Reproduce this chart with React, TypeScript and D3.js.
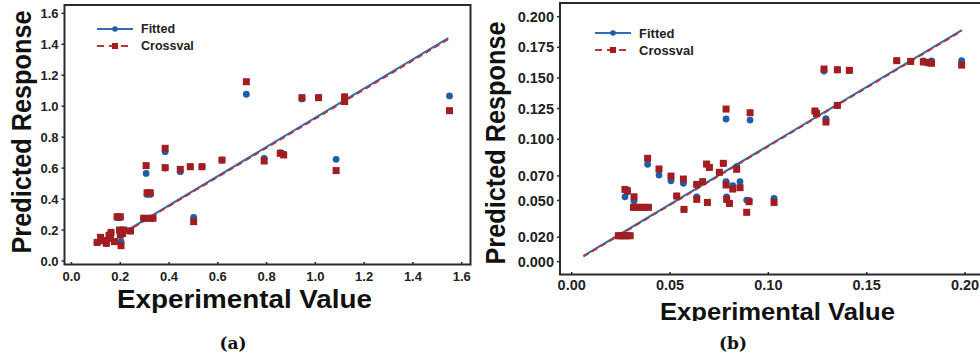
import React from 'react'
import * as d3 from 'd3'

// panel (a)
const expA = [0.105, 0.119, 0.126, 0.135, 0.143, 0.154, 0.16, 0.162, 0.176, 0.187, 0.2, 0.197, 0.2, 0.203, 0.214, 0.21, 0.242, 0.296, 0.306, 0.31, 0.323, 0.32, 0.334, 0.384, 0.384, 0.446, 0.487, 0.501, 0.535, 0.617, 0.717, 0.79, 0.856, 0.87, 0.945, 1.013, 1.085, 1.12, 1.12, 1.55]
const fitA = [0.12, 0.153, 0.131, 0.131, 0.114, 0.166, 0.146, 0.185, 0.125, 0.28, 0.28, 0.2, 0.168, 0.125, 0.2, 0.178, 0.194, 0.276, 0.566, 0.43, 0.43, 0.276, 0.276, 0.706, 0.6, 0.577, 0.609, 0.282, 0.609, 0.652, 1.077, 0.663, 0.7, 0.69, 1.047, 1.055, 0.657, 1.06, 1.04, 1.066]
const cvA = [0.12, 0.153, 0.131, 0.131, 0.114, 0.166, 0.146, 0.185, 0.125, 0.286, 0.286, 0.2, 0.168, 0.099, 0.2, 0.178, 0.194, 0.276, 0.616, 0.441, 0.441, 0.276, 0.276, 0.728, 0.603, 0.592, 0.609, 0.254, 0.609, 0.652, 1.158, 0.646, 0.695, 0.685, 1.055, 1.055, 0.584, 1.06, 1.03, 0.971]
const fitLineA = { x: [0.22, 1.545], y: [0.19, 1.44] }
const cvLineA = { x: [0.22, 1.545], y: [0.185, 1.432] }
const xTicksA = [0, 0.2, 0.4, 0.6, 0.8, 1.0, 1.2, 1.4, 1.6]
const yTicksA = [0, 0.2, 0.4, 0.6, 0.8, 1.0, 1.2, 1.4, 1.6]

// panel (b)
const expB = [0.0237, 0.025, 0.0265, 0.028, 0.0297, 0.0271, 0.0283, 0.0317, 0.0314, 0.033, 0.035, 0.037, 0.039, 0.0386, 0.0444, 0.0505, 0.0534, 0.0568, 0.0571, 0.0636, 0.0636, 0.0666, 0.069, 0.0686, 0.07, 0.0751, 0.0771, 0.0785, 0.0785, 0.0788, 0.0802, 0.0819, 0.0839, 0.0856, 0.089, 0.0902, 0.0907, 0.1029, 0.1237, 0.1245, 0.1283, 0.1293, 0.1351, 0.1351, 0.1412, 0.1653, 0.1724, 0.1788, 0.1814, 0.183, 0.1983]
const fitB = [0.0212, 0.0212, 0.0212, 0.0212, 0.0212, 0.053, 0.057, 0.0495, 0.0444, 0.0444, 0.0444, 0.0444, 0.0444, 0.0795, 0.0707, 0.0661, 0.0536, 0.064, 0.0427, 0.0631, 0.053, 0.0653, 0.0484, 0.0797, 0.077, 0.073, 0.0803, 0.1165, 0.0653, 0.053, 0.0476, 0.062, 0.0776, 0.0653, 0.0503, 0.05, 0.1156, 0.0517, 0.123, 0.121, 0.1556, 0.1167, 0.1567, 0.1276, 0.1562, 0.1641, 0.1635, 0.164, 0.163, 0.164, 0.1641]
const cvB = [0.0212, 0.0212, 0.0212, 0.0212, 0.0212, 0.059, 0.058, 0.053, 0.0444, 0.0444, 0.0444, 0.0444, 0.0444, 0.0844, 0.0757, 0.0699, 0.0536, 0.0675, 0.0427, 0.0631, 0.0509, 0.0653, 0.0484, 0.0797, 0.077, 0.073, 0.0803, 0.1246, 0.0626, 0.0509, 0.0476, 0.0593, 0.0754, 0.0604, 0.0403, 0.049, 0.1216, 0.0484, 0.123, 0.121, 0.1573, 0.114, 0.1567, 0.1276, 0.1562, 0.1641, 0.1635, 0.163, 0.1624, 0.162, 0.1605]
const fitLineB = { x: [0.006, 0.1984], y: [0.0047, 0.189] }
const cvLineB = { x: [0.006, 0.1984], y: [0.0042, 0.1884] }
const xTicksB = [0, 0.05, 0.1, 0.15, 0.2]
const yTicksB = [0, 0.02, 0.05, 0.07, 0.1, 0.125, 0.15, 0.175, 0.2]

const BLUE = '#1d5daa'
const RED = '#a11d1f'
const LINE_BLUE = '#2f6db3'
const LINE_RED = '#b3363a'
const FONT = '"Liberation Sans", Arial, sans-serif'

interface PanelProps {
  exp: number[]
  fit: number[]
  cv: number[]
  fitLine: { x: number[]; y: number[] }
  cvLine: { x: number[]; y: number[] }
  xTicks: number[]
  yTicks: number[]
  xFmt: (v: number) => string
  yFmt: (v: number) => string
  xRange: [number, number]
  yRange: [number, number]
  xDomain: [number, number]
  yDomain: [number, number]
  frame: { x0: number; x1: number; y0: number; y1: number }
  tickSize: number
  xLabelY: number
  legend: { x: number; y: number; size: number }
  yTitle: { x: number; cy: number; len: number }
  xTitle: { cx: number; y: number; len: number; size: number; clip: number }
  caption: { cx: number; y: number; text: string }
  id: string
}

const Panel: React.FC<PanelProps> = p => {
  const x = d3.scaleLinear().domain(p.xDomain).range(p.xRange)
  const y = d3.scaleLinear().domain(p.yDomain).range(p.yRange)
  const line = d3
    .line<number>()
    .x((_, i) => x(p.fitLine.x[i]))
    .y(d => y(d))
  const cvPath = d3
    .line<number>()
    .x((_, i) => x(p.cvLine.x[i]))
    .y(d => y(d))
  const f = p.frame
  const lg = p.legend
  const sq = 7

  return (
    <g>
      <defs>
        <clipPath id={`clip-${p.id}`}>
          <rect x={f.x0 - 80} y={0} width={600} height={p.xTitle.clip} />
        </clipPath>
      </defs>
      <rect x={f.x0} y={f.y0} width={f.x1 - f.x0} height={f.y1 - f.y0} fill="#fff" stroke="#2b2b2b" strokeWidth={2} />

      {/* y ticks */}
      {p.yTicks.map(t => (
        <g key={`y${t}`}>
          <line x1={f.x0 - 3} x2={f.x0} y1={y(t)} y2={y(t)} stroke="#2b2b2b" strokeWidth={1.5} />
          <text x={f.x0 - 6} y={y(t)} dy="0.35em" textAnchor="end" fontFamily={FONT} fontWeight="bold" fontSize={p.tickSize} fill="#222">
            {p.yFmt(t)}
          </text>
        </g>
      ))}
      {/* x ticks */}
      {p.xTicks.map(t => (
        <g key={`x${t}`}>
          <line x1={x(t)} x2={x(t)} y1={f.y1 - 2.5} y2={f.y1} stroke="#2b2b2b" strokeWidth={1.5} />
          <text x={x(t)} y={p.xLabelY} textAnchor="middle" fontFamily={FONT} fontWeight="bold" fontSize={p.tickSize} fill="#222">
            {p.xFmt(t)}
          </text>
        </g>
      ))}

      {/* regression lines */}
      <path d={line(p.fitLine.y) || ''} fill="none" stroke={LINE_BLUE} strokeWidth={2} />
      <path d={cvPath(p.cvLine.y) || ''} fill="none" stroke={LINE_RED} strokeWidth={1.8} strokeDasharray="6,4" />

      {/* points */}
      {p.exp.map((e, i) => (
        <circle key={`f${i}`} cx={x(e)} cy={y(p.fit[i])} r={3.4} fill={BLUE} />
      ))}
      {p.exp.map((e, i) => (
        <rect key={`c${i}`} x={x(e) - sq / 2} y={y(p.cv[i]) - sq / 2} width={sq} height={sq} fill={RED} />
      ))}

      {/* legend */}
      <line x1={lg.x} x2={lg.x + 36} y1={lg.y} y2={lg.y} stroke={LINE_BLUE} strokeWidth={2} />
      <circle cx={lg.x + 18} cy={lg.y} r={2.8} fill={BLUE} />
      <text x={lg.x + 44} y={lg.y} dy="0.35em" fontFamily={FONT} fontWeight="bold" fontSize={lg.size} fill="#222">
        Fitted
      </text>
      <line x1={lg.x} x2={lg.x + 36} y1={lg.y + 17} y2={lg.y + 17} stroke={LINE_RED} strokeWidth={2} strokeDasharray="7,5" />
      <rect x={lg.x + 15} y={lg.y + 14} width={6} height={6} fill={RED} />
      <text x={lg.x + 44} y={lg.y + 17} dy="0.35em" fontFamily={FONT} fontWeight="bold" fontSize={lg.size} fill="#222">
        Crossval
      </text>

      {/* axis titles */}
      <text
        transform={`translate(${p.yTitle.x},${p.yTitle.cy}) rotate(-90)`}
        textAnchor="middle"
        fontFamily={FONT}
        fontWeight="bold"
        fontSize={27}
        fill="#111"
        textLength={p.yTitle.len}
        lengthAdjust="spacingAndGlyphs"
      >
        Predicted Response
      </text>
      <g clipPath={`url(#clip-${p.id})`}>
        <text
          x={p.xTitle.cx}
          y={p.xTitle.y}
          textAnchor="middle"
          fontFamily={FONT}
          fontWeight="bold"
          fontSize={p.xTitle.size}
          fill="#111"
          textLength={p.xTitle.len}
          lengthAdjust="spacingAndGlyphs"
        >
          Experimental Value
        </text>
      </g>
      <text x={p.caption.cx} y={p.caption.y} textAnchor="middle" fontFamily='"DejaVu Serif", "Liberation Serif", serif' fontWeight="bold" fontSize={17} fill="#111">
        {p.caption.text}
      </text>
    </g>
  )
}

const App: React.FC = () => {
  const fmt1 = d3.format('.1f')
  const fmt2 = d3.format('.2f')
  const fmt3 = d3.format('.3f')
  return (
    <svg width={980} height={361} style={{ position: 'absolute', left: 0, top: 0, background: '#fff' }}>
      <rect width={980} height={361} fill="#fff" />
      <Panel
        id="a"
        exp={expA}
        fit={fitA}
        cv={cvA}
        fitLine={fitLineA}
        cvLine={cvLineA}
        xTicks={xTicksA}
        yTicks={yTicksA}
        xFmt={fmt1}
        yFmt={fmt1}
        xDomain={[0, 1.6]}
        yDomain={[0, 1.6]}
        xRange={[71.5, 461.7]}
        yRange={[261, 13.3]}
        frame={{ x0: 64.5, x1: 470.5, y0: 5, y1: 264.5 }}
        tickSize={13}
        xLabelY={281}
        legend={{ x: 97, y: 29, size: 12.5 }}
        yTitle={{ x: 31, cy: 132, len: 243 }}
        xTitle={{ cx: 244.5, y: 308, len: 255, size: 25, clip: 330 }}
        caption={{ cx: 233, y: 349, text: '(a)' }}
      />
      <Panel
        id="b"
        exp={expB}
        fit={fitB}
        cv={cvB}
        fitLine={fitLineB}
        cvLine={cvLineB}
        xTicks={xTicksB}
        yTicks={yTicksB}
        xFmt={fmt2}
        yFmt={fmt3}
        xDomain={[0, 0.2]}
        yDomain={[0, 0.2]}
        xRange={[571.7, 965]}
        yRange={[261.7, 16.7]}
        frame={{ x0: 560, x1: 1000, y0: 3, y1: 274.5 }}
        tickSize={14.5}
        xLabelY={290}
        legend={{ x: 595, y: 33, size: 13 }}
        yTitle={{ x: 505, cy: 143, len: 243 }}
        xTitle={{ cx: 777.5, y: 320, len: 235, size: 24, clip: 321 }}
        caption={{ cx: 733, y: 349, text: '(b)' }}
      />
    </svg>
  )
}

export default App
